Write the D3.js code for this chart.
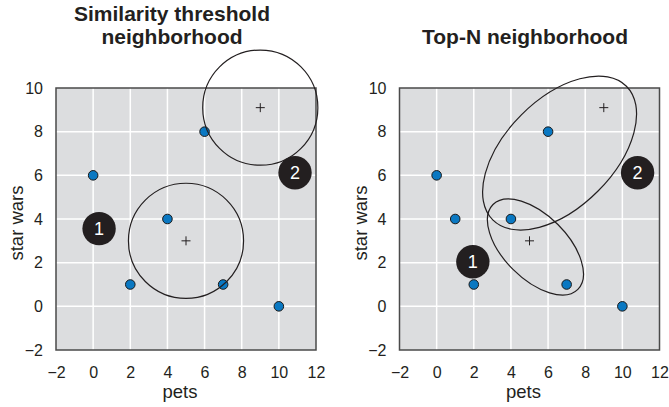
<!DOCTYPE html>
<html>
<head>
<meta charset="utf-8">
<script src="https://cdn.jsdelivr.net/npm/d3@7"></script>
<style>
  body { margin: 0; background: #fff; }
  text { font-family: "Liberation Sans", Arial, sans-serif; fill: #231f20; }
  .title { font-size: 21px; font-weight: bold; }
  .tick text { font-size: 16px; fill: #231f20; }
  .axisText { font-size: 18.5px; }
</style>
</head>
<body>
<div class="chart"></div>
<script>
var svgWidth = 669;
var svgHeight = 407;

var xTicks = [-2, 0, 2, 4, 6, 8, 10, 12];
var yTicks = [-2, 0, 2, 4, 6, 8, 10];

// users: [pets, star wars]
var leftUsers = [[0, 6], [4, 4], [6, 8], [2, 1], [7, 1], [10, 0]];
var rightUsers = [[0, 6], [1, 4], [4, 4], [6, 8], [2, 1], [7, 1], [10, 0]];

// target users marked with "+"
var targets = [[5, 3], [9, 9.1]];

// similarity threshold (radius, in pets units)
var threshold = 3.1;

// top-N neighborhoods: center, radii (pets units), rotation
var topNCenters = [[5.32, 2.72], [6.62, 7.02]];
var topNRadii = [[3.23, 1.71], [5.09, 2.91]];
var topNAngles = [45, -45];

// numbered badges
var badgeLabels = ["1", "2"];
var leftBadges = [[0.32, 3.56], [10.87, 6.12]];
var rightBadges = [[1.95, 2.04], [10.82, 6.12]];

var width = 260;
var height = 262;

var x = d3.scaleLinear().domain([-2, 12]).range([0, width]);
var y = d3.scaleLinear().domain([-2, 10]).range([height, 0]);

var svg = d3.select(".chart")
  .append("svg")
  .attr("width", svgWidth)
  .attr("height", svgHeight);

function drawPanel(left, titleLines, titleX, users, badges) {
  var g = svg.append("g")
    .attr("transform", `translate(${left}, 88)`);

  g.append("rect")
    .attr("width", width)
    .attr("height", height)
    .attr("fill", "#dcdddf");

  g.selectAll(".vgrid")
    .data(xTicks.slice(1, -1))
    .enter()
    .append("line")
    .attr("x1", d => x(d)).attr("x2", d => x(d))
    .attr("y1", 0).attr("y2", height)
    .attr("stroke", "#fff")
    .attr("stroke-width", 1.5);

  g.selectAll(".hgrid")
    .data(yTicks.slice(1, -1))
    .enter()
    .append("line")
    .attr("y1", d => y(d)).attr("y2", d => y(d))
    .attr("x1", 0).attr("x2", width)
    .attr("stroke", "#fff")
    .attr("stroke-width", 1.5);

  g.append("rect")
    .attr("width", width)
    .attr("height", height)
    .attr("fill", "none")
    .attr("stroke", "#4a4a4a")
    .attr("stroke-width", 1.5);

  var fmt = d => d < 0 ? "\u2212" + Math.abs(d) : d;

  var bottomAxis = d3.axisBottom(x).tickValues(xTicks).tickSize(0).tickPadding(16.5).tickFormat(fmt);
  var leftAxis = d3.axisLeft(y).tickValues(yTicks).tickSize(0).tickPadding(13).tickFormat(fmt);

  g.append("g")
    .attr("transform", `translate(0, ${height})`)
    .call(bottomAxis)
    .call(a => a.select(".domain").remove());

  g.append("g")
    .call(leftAxis)
    .call(a => a.select(".domain").remove());

  g.selectAll(".tick text").attr("font-family", null).attr("font-size", null);

  // title
  var title = svg.append("text")
    .attr("class", "title")
    .attr("text-anchor", "middle");
  titleLines.forEach(function(t, i) {
    title.append("tspan")
      .attr("x", titleX)
      .attr("y", 21 + (titleLines.length === 1 ? 23 : i * 23))
      .text(t);
  });

  g.append("text")
    .attr("class", "axisText")
    .attr("text-anchor", "middle")
    .attr("x", width / 2 - 6)
    .attr("y", height + 48)
    .text("pets");

  g.append("text")
    .attr("class", "axisText")
    .attr("text-anchor", "middle")
    .attr("transform", "rotate(-90)")
    .attr("x", -height / 2 - 4)
    .attr("y", -33)
    .text("star wars");

  g.selectAll(".user")
    .data(users)
    .enter()
    .append("circle")
    .attr("cx", d => x(d[0]))
    .attr("cy", d => y(d[1]))
    .attr("r", 4.8)
    .attr("fill", "#0a78c2")
    .attr("stroke", "#1a1a1a")
    .attr("stroke-width", 1);

  g.selectAll(".target")
    .data(targets)
    .enter()
    .append("path")
    .attr("d", d => `M${x(d[0]) - 4.5},${y(d[1])}h9M${x(d[0])},${y(d[1]) - 4.5}v9`)
    .attr("stroke", "#231f20")
    .attr("stroke-width", 1);

  var b = g.selectAll(".badge")
    .data(badges)
    .enter()
    .append("g")
    .attr("transform", d => `translate(${x(d[0])}, ${y(d[1])})`);
  b.append("circle")
    .attr("r", 16.7)
    .attr("fill", "#231f20");
  b.append("text")
    .attr("text-anchor", "middle")
    .attr("dy", "0.36em")
    .attr("font-size", "18px")
    .style("fill", "#fff")
    .text((d, i) => badgeLabels[i]);

  return g;
}

var leftG = drawPanel(56, ["Similarity threshold", "neighborhood"], 172, leftUsers, leftBadges);
var rightG = drawPanel(399.5, ["Top-N neighborhood"], 525, rightUsers, rightBadges);

leftG.selectAll(".hood")
  .data(targets)
  .enter()
  .append("circle")
  .attr("cx", d => x(d[0]))
  .attr("cy", d => y(d[1]))
  .attr("r", x(threshold) - x(0))
  .attr("fill", "none")
  .attr("stroke", "#231f20")
  .attr("stroke-width", 1.2);

rightG.selectAll(".hood")
  .data(topNCenters)
  .enter()
  .append("ellipse")
  .attr("cx", d => x(d[0]))
  .attr("cy", d => y(d[1]))
  .attr("rx", (d, i) => x(topNRadii[i][0]) - x(0))
  .attr("ry", (d, i) => x(topNRadii[i][1]) - x(0))
  .attr("transform", (d, i) => `rotate(${topNAngles[i]}, ${x(d[0])}, ${y(d[1])})`)
  .attr("fill", "none")
  .attr("stroke", "#231f20")
  .attr("stroke-width", 1.2);
</script>
</body>
</html>
